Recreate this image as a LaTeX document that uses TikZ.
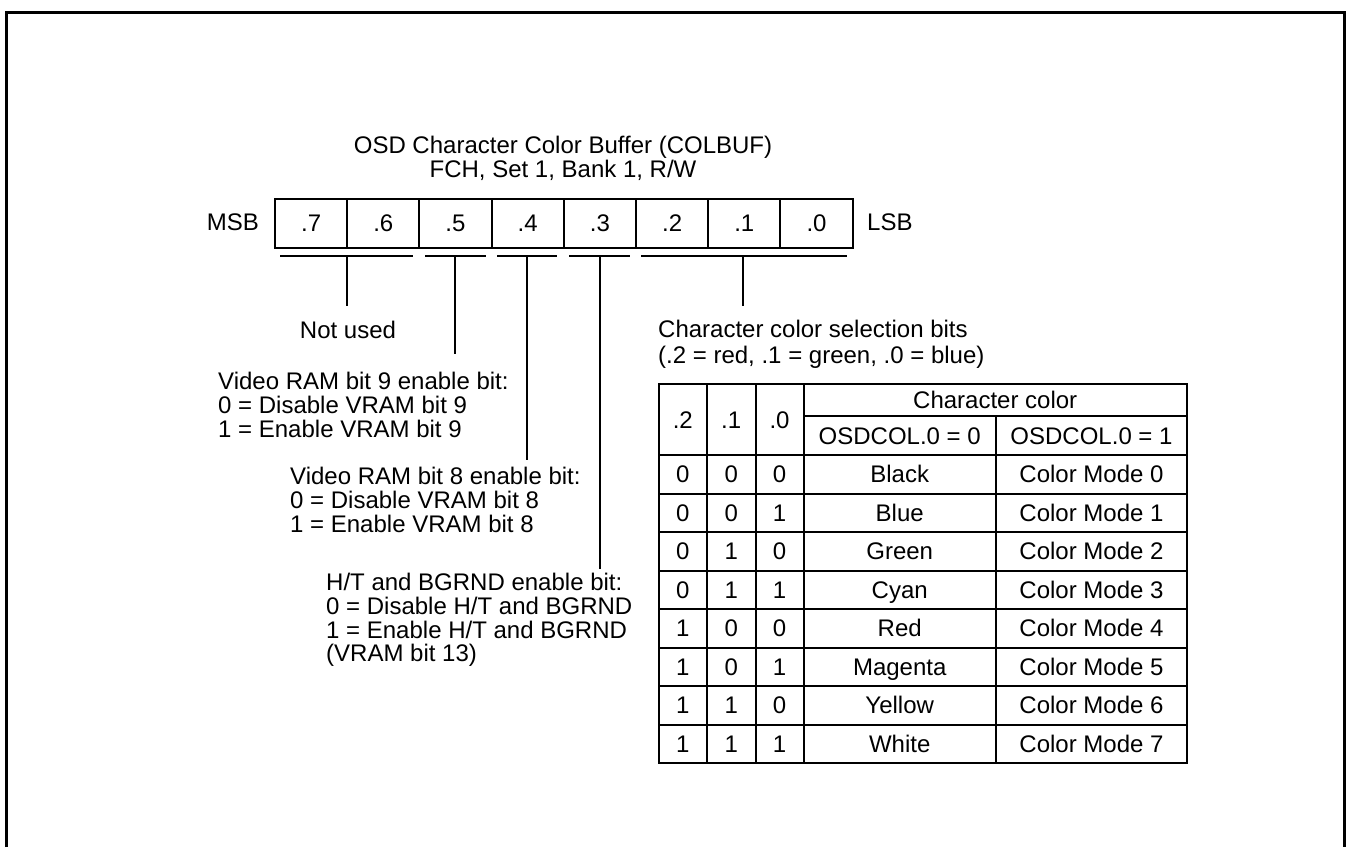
\documentclass[tikz,border=0pt]{standalone}
\usepackage{fontspec}
\setmainfont{Liberation Sans}
\begin{document}
\begin{tikzpicture}[x=1pt,y=-1pt,
  txt/.style={font=\fontsize{24}{24}\selectfont, inner sep=0pt},
  bitcell/.style={draw, line width=2pt, minimum width=72.2pt, minimum height=48.5pt,
    anchor=north west, inner sep=0pt, font=\fontsize{24}{24}\selectfont},
  conn/.style={line width=1.6pt},
  grid/.style={line width=2pt}]
\useasboundingbox (0,0) rectangle (1351,847);
% frame (open at the bottom)
\draw[line width=3pt] (6.5,847) -- (6.5,12) -- (1344.7,12) -- (1344.7,847);

% title
\node[txt, anchor=base] (title1) at (563,153.5) {OSD Character Color Buffer (COLBUF)};
\node[txt, anchor=base] (title2) at (563,177.5) {FCH, Set 1, Bank 1, R/W};

% register
\foreach \i/\lab in {0/.7,1/.6,2/.5,3/.4,4/.3,5/.2,6/.1,7/.0}
  \node[bitcell] (c\i) at ({274+72.2*\i},198) {\lab};
\node[txt, anchor=base east] (msb) at (259,230.5) {MSB};
\node[txt, anchor=base west] (lsb) at (867,230.5) {LSB};

% underlines
\coordinate (u1a) at (280,256); \coordinate (u1b) at (413,256);
\coordinate (u2a) at (425,256); \coordinate (u2b) at (486,256);
\coordinate (u3a) at (497,256); \coordinate (u3b) at (557,256);
\coordinate (u4a) at (569,256); \coordinate (u4b) at (630,256);
\coordinate (u5a) at (641,256); \coordinate (u5b) at (847,256);
\foreach \k in {1,...,5} \draw[conn] (u\k a) -- (u\k b);

% vertical leaders
\coordinate (v1) at (347,256); \coordinate (v1e) at (347,306);
\coordinate (v2) at (455,256); \coordinate (v2e) at (455,354);
\coordinate (v3) at (527,256); \coordinate (v3e) at (527,460);
\coordinate (v4) at (600,256); \coordinate (v4e) at (600,569);
\coordinate (v5) at (743,256); \coordinate (v5e) at (743,306);
\foreach \k in {1,...,5} \draw[conn] (v\k) -- (v\k e);

% descriptions
\node[txt, anchor=base] (notused) at (348,338.5) {Not used};

\node[txt, anchor=base west] (b1a) at (218,389.5) {Video RAM bit 9 enable bit:};
\node[txt, anchor=base west] (b1b) at (218,413.5) {0 = Disable VRAM bit 9};
\node[txt, anchor=base west] (b1c) at (218,437.5) {1 = Enable VRAM bit 9};

\node[txt, anchor=base west] (b2a) at (290,484.5) {Video RAM bit 8 enable bit:};
\node[txt, anchor=base west] (b2b) at (290,508.5) {0 = Disable VRAM bit 8};
\node[txt, anchor=base west] (b2c) at (290,532.5) {1 = Enable VRAM bit 8};

\node[txt, anchor=base west] (b3a) at (326,590.5) {H/T and BGRND enable bit:};
\node[txt, anchor=base west] (b3b) at (326,614.5) {0 = Disable H/T and BGRND};
\node[txt, anchor=base west] (b3c) at (326,638) {1 = Enable H/T and BGRND};
\node[txt, anchor=base west] (b3d) at (326,661.5) {(VRAM bit 13)};

\node[txt, anchor=base west] (csa) at (658,337.5) {Character color selection bits};
\node[txt, anchor=base west] (csb) at (658,363.5) {(.2 = red, .1 = green, .0 = blue)};

% table grid
\draw[grid] (658.6,384) rectangle (1187,763);
\foreach \xx in {707,755.5,803.5} \draw[grid] (\xx,384) -- (\xx,763);
\draw[grid] (996,416) -- (996,763);
\draw[grid] (803.5,416) -- (1187,416);
\foreach \k in {0,...,7} \draw[grid] (658.6,{455+38.5*\k}) -- (1187,{455+38.5*\k});

% table header
\node[txt, anchor=base] (h2) at (682.8,428) {.2};
\node[txt, anchor=base] (h1) at (731.2,428) {.1};
\node[txt, anchor=base] (h0) at (779.5,428) {.0};
\node[txt, anchor=base] (hcc) at (995.2,408.5) {Character color};
\node[txt, anchor=base] (hm0) at (899.7,444) {OSDCOL.0 = 0};
\node[txt, anchor=base] (hm1) at (1091.5,444) {OSDCOL.0 = 1};

% table body
\foreach \a/\b/\c/\nm/\k in {0/0/0/Black/0,0/0/1/Blue/1,0/1/0/Green/2,0/1/1/Cyan/3,
    1/0/0/Red/4,1/0/1/Magenta/5,1/1/0/Yellow/6,1/1/1/White/7}{
  \pgfmathsetmacro{\yb}{455+38.5*\k+19.25+8.5}
  \node[txt, anchor=base] (ra\k) at (682.8,\yb) {\a};
  \node[txt, anchor=base] (rb\k) at (731.2,\yb) {\b};
  \node[txt, anchor=base] (rc\k) at (779.5,\yb) {\c};
  \node[txt, anchor=base] (rn\k) at (899.7,\yb) {\nm};
  \node[txt, anchor=base] (rm\k) at (1091.5,\yb) {Color Mode \k};
}
\end{tikzpicture}
\end{document}
